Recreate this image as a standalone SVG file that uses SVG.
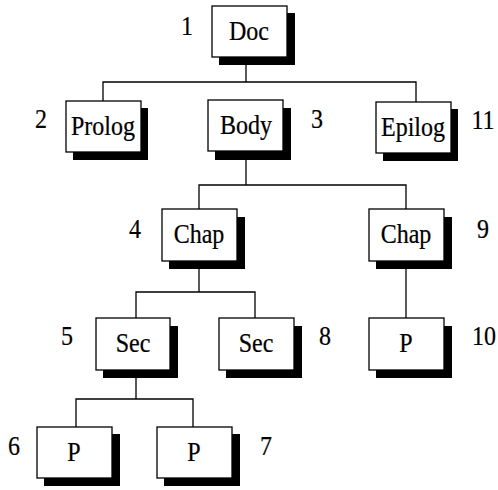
<svg xmlns="http://www.w3.org/2000/svg" width="498" height="490" viewBox="0 0 498 490">
<style>
.sh{fill:#000}
.bx{fill:#fff;stroke:#000;stroke-width:1.3}
.lb,.nm{font-family:"Liberation Serif",serif;font-size:24px;fill:#000;stroke:#000;stroke-width:0.2;text-anchor:middle}
.cn{fill:none;stroke:#000;stroke-width:1.3}
</style>
<rect width="498" height="490" fill="#fff"/>
<g id="connectors">
<path class="cn" d="M246,57V82M103,101V82H416V102"/>
<path class="cn" d="M246,151V185M199,209V185H406V209"/>
<path class="cn" d="M199,261V292M136,318V292H255V318"/>
<path class="cn" d="M406,261V318"/>
<path class="cn" d="M136,370V399M76,427V399H193V427"/>
</g>
<g id="n1"><rect class="sh" x="219" y="13" width="76" height="52"/><rect class="bx" x="212" y="6" width="75" height="51"/><text class="lb" transform="translate(249,40) scale(1,1.13)">Doc</text><text class="nm" transform="translate(187,35) scale(1,1.13)">1</text></g>
<g id="n2"><rect class="sh" x="73" y="108" width="75" height="52"/><rect class="bx" x="66" y="101" width="75" height="51"/><text class="lb" transform="translate(103,135) scale(1,1.13)">Prolog</text><text class="nm" transform="translate(41,128) scale(1,1.13)">2</text></g>
<g id="n3"><rect class="sh" x="215" y="108" width="76" height="52"/><rect class="bx" x="208" y="100" width="75" height="51"/><text class="lb" transform="translate(246,134) scale(1,1.13)">Body</text><text class="nm" transform="translate(317,128) scale(1,1.13)">3</text></g>
<g id="n11"><rect class="sh" x="383" y="109" width="75" height="52"/><rect class="bx" x="376" y="102" width="75" height="51"/><text class="lb" transform="translate(413,136) scale(1,1.13)">Epilog</text><text class="nm" transform="translate(483,129) scale(1,1.13)">11</text></g>
<g id="n4"><rect class="sh" x="169" y="217" width="76" height="52"/><rect class="bx" x="162" y="209" width="75" height="52"/><text class="lb" transform="translate(199,243) scale(1,1.13)">Chap</text><text class="nm" transform="translate(135,238) scale(1,1.13)">4</text></g>
<g id="n9"><rect class="sh" x="376" y="217" width="76" height="52"/><rect class="bx" x="369" y="209" width="75" height="52"/><text class="lb" transform="translate(406,243) scale(1,1.13)">Chap</text><text class="nm" transform="translate(483,238) scale(1,1.13)">9</text></g>
<g id="n5"><rect class="sh" x="103" y="326" width="75" height="52"/><rect class="bx" x="96" y="318" width="74" height="52"/><text class="lb" transform="translate(133,352) scale(1,1.13)">Sec</text><text class="nm" transform="translate(67,345) scale(1,1.13)">5</text></g>
<g id="n8"><rect class="sh" x="226" y="326" width="76" height="52"/><rect class="bx" x="219" y="318" width="75" height="52"/><text class="lb" transform="translate(256,352) scale(1,1.13)">Sec</text><text class="nm" transform="translate(325,345) scale(1,1.13)">8</text></g>
<g id="n10"><rect class="sh" x="376" y="326" width="76" height="52"/><rect class="bx" x="369" y="318" width="75" height="52"/><text class="lb" transform="translate(406,352) scale(1,1.13)">P</text><text class="nm" transform="translate(484,345) scale(1,1.13)">10</text></g>
<g id="n6"><rect class="sh" x="44" y="434" width="76" height="52"/><rect class="bx" x="37" y="427" width="75" height="51"/><text class="lb" transform="translate(74,461) scale(1,1.13)">P</text><text class="nm" transform="translate(14,455) scale(1,1.13)">6</text></g>
<g id="n7"><rect class="sh" x="164" y="434" width="76" height="52"/><rect class="bx" x="157" y="427" width="75" height="51"/><text class="lb" transform="translate(194,461) scale(1,1.13)">P</text><text class="nm" transform="translate(266,455) scale(1,1.13)">7</text></g>
</svg>
